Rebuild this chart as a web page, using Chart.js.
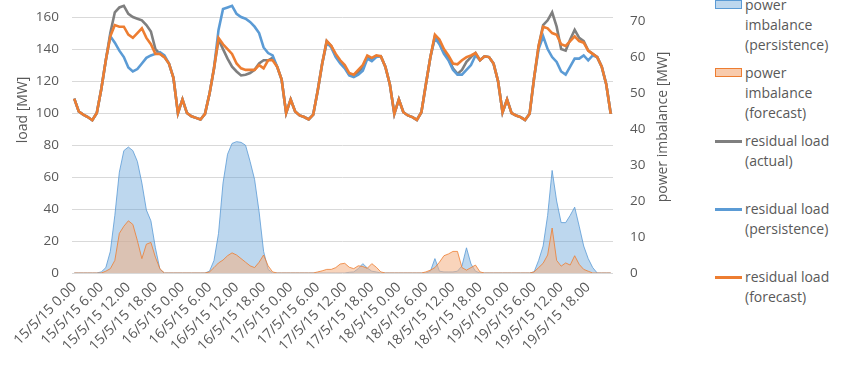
<!DOCTYPE html>
<html>
<head>
<meta charset="utf-8">
<script src="https://cdn.jsdelivr.net/npm/chart.js@4.4.1/dist/chart.umd.min.js"></script>
<style>
  html, body { margin: 0; padding: 0; background: #fff; }
  body { width: 850px; height: 370px; position: relative; overflow: hidden;
         font-family: "Open Sans", sans-serif; color: #595959; }
  #wrap { position: absolute; left: 0; top: -40px; width: 690px; height: 410px; }
  #legend { position: absolute; left: 715px; top: 0; }
  .item { position: absolute; left: 0; width: 135px; }
  .item .mk { position: absolute; left: 0; width: 27px; box-sizing: border-box; }
  .item .tx { position: absolute; left: 30px; top: 0; width: 102px; font-size: 14px; line-height: 20px; }
</style>
</head>
<body>
<div id="wrap"><canvas id="chart"></canvas></div>
<div id="legend"></div>
<script>
(function () {
  const days = ["15/5/15", "16/5/15", "17/5/15", "18/5/15", "19/5/15"];
  const tickLabels = [
    "15/5/15 0.00", "15/5/15 6.00", "15/5/15 12.00", "15/5/15 18.00",
    "16/5/15 0.00", "16/5/15 6.00", "16/5/15 12.00", "16/5/15 18.00",
    "17/5/15 0.00", "17/5/15 6.00", "17/5/15 12.00", "17/5/15 18.00",
    "18/5/15 0.00", "18/5/15 6.00", "18/5/15 12.00", "18/5/15 18.00",
    "19/5/15 0.00", "19/5/15 6.00", "19/5/15 12.00", "19/5/15 18.00"
  ];
  const loadTicks = [0, 20, 40, 60, 80, 100, 120, 140, 160];
  const imbalanceTicks = [0, 10, 20, 30, 40, 50, 60, 70];

  // residual load [MW], hourly, one row per day
  const loadActual = [
    109, 101, 99, 97.5, 95.5, 100, 115, 133, 150, 163, 166, 167, 162, 160, 159, 158, 155, 151, 140, 137, 135, 131, 122, 100,
    108.5, 100, 98, 97, 96, 99.5, 112, 128, 146, 140, 134, 129, 126, 123.5, 124, 125, 127, 131, 133, 133, 134.5, 129, 121, 100,
    108.5, 101, 98.5, 97.5, 96, 99, 114, 131, 145, 142, 136, 132, 129, 124, 123, 125.5, 128.5, 135, 133.5, 135.5, 135.5, 129, 118, 99.5,
    108.5, 100.5, 98.5, 97.5, 95.7, 100.5, 118, 135, 148, 145, 139, 134, 128, 124.5, 127, 132, 135, 137.5, 133, 135.5, 135, 131, 120, 100.5,
    108.5, 100, 98.5, 97.5, 95.7, 99.5, 122, 142, 155, 158, 163, 154, 140, 139, 146, 152, 147, 145, 139, 137, 135, 129, 118, 99.5
  ];
  const loadPersistence = [
    109, 101, 99, 97.5, 95.5, 100, 115, 133, 148, 144, 139, 135, 128.5, 126, 127.5, 131, 134.5, 136, 137, 138, 136, 131, 122, 100,
    108.5, 100, 98, 97, 96, 99.5, 112, 128, 152, 165, 166, 167, 162, 160, 159, 157, 154, 150, 141, 137.5, 136, 129, 121, 100,
    108.5, 101, 98.5, 97.5, 96, 99, 114, 131, 144, 141, 135, 131, 128, 123.5, 122.5, 124, 126.5, 134, 132.5, 135, 135.5, 129, 118, 99.5,
    108.5, 100.5, 98.5, 97.5, 95.7, 100.5, 118, 135, 147, 143, 137, 133, 127, 124, 124, 127, 130, 136, 133, 135.5, 135, 131, 120, 100.5,
    108.5, 100, 98.5, 97.5, 95.7, 99.5, 122, 140, 148, 140, 135, 132, 126, 124, 129, 134, 134, 136, 133, 136, 135, 129, 118, 99.5
  ];
  const loadForecast = [
    109, 101, 99, 97.5, 95.5, 100, 115, 133, 148, 155, 154, 154, 149, 147, 150, 153, 147, 143, 137, 137, 135, 131, 122, 100,
    108.5, 100, 98, 97, 96, 99.5, 112, 128, 147, 143, 140, 137, 131, 128, 127, 127, 127, 130, 128, 133, 133, 129, 121, 100,
    108.5, 101, 98.5, 97.5, 96, 99, 114, 131, 145, 142, 137, 133, 130, 125, 124, 127, 130, 136, 134.5, 136, 135.5, 129, 118, 99.5,
    108.5, 100.5, 98.5, 97.5, 95.7, 100.5, 118, 135, 149, 146, 140, 136, 131, 130.5, 133, 135, 136, 137.5, 133, 135.5, 135, 131, 120, 100.5,
    108.5, 100, 98.5, 97.5, 95.7, 99.5, 122, 142, 154, 153, 150, 149, 143, 142, 145, 148, 145, 144, 139, 137, 135, 129, 118, 99.5
  ];

  // power imbalance [MW], right axis
  const imbPersistence = [
    0, 0, 0, 0, 0, 0, 0.3, 1.5, 6, 16, 28, 34, 35, 34, 31, 25, 17.5, 14.5, 7, 1, 0, 0, 0, 0,
    0, 0, 0, 0, 0, 0, 0.5, 3.5, 11, 25, 33, 36, 36.5, 36.3, 35.5, 31, 26, 17, 6, 1, 0, 0, 0, 0,
    0, 0, 0, 0, 0, 0, 0, 0, 0, 0, 0, 0, 0, 0.2, 0.3, 1.2, 2.6, 1.4, 0.5, 0.3, 0, 0, 0, 0,
    0, 0, 0, 0, 0, 0, 0, 0.5, 4, 0.5, 0.3, 0.3, 0.3, 0.5, 2, 7, 2.5, 0.5, 0, 0, 0, 0, 0, 0,
    0, 0, 0, 0, 0, 0, 0.3, 3.5, 7.5, 16, 28.5, 20, 14, 14, 16, 18.3, 13, 7.5, 4, 1.5, 0, 0, 0, 0
  ];
  const imbForecast = [
    0, 0, 0, 0, 0, 0, 0, 0.5, 1.2, 3.5, 11, 13, 14.5, 13.5, 9, 4, 8, 8.5, 4.4, 1.2, 0, 0, 0, 0,
    0, 0, 0, 0, 0, 0, 0.3, 1.5, 2.8, 3.6, 4.8, 5.6, 5, 4, 3, 2, 1.5, 3, 5, 2, 0.3, 0, 0, 0,
    0, 0, 0, 0, 0, 0, 0.3, 0.6, 1, 1, 1.5, 2.5, 2.7, 1.6, 1.2, 2, 1.8, 1.3, 2.6, 1.6, 0.3, 0, 0, 0,
    0, 0, 0, 0, 0, 0, 0.3, 0.8, 1.5, 3, 4.8, 5.3, 6, 6, 1.5, 0.8, 1.5, 2.2, 0.3, 0, 0, 0, 0, 0,
    0, 0, 0, 0, 0, 0, 0.3, 1.5, 2.7, 5, 12.5, 3.5, 1.9, 2.8, 2.2, 4.8, 2.4, 1, 0.5, 0, 0, 0, 0, 0
  ];

  const categories = [];
  for (const d of days) {
    for (let h = 0; h < 24; h++) categories.push(d + " " + h + ".00");
  }

  const TEXT = "#595959";
  const FONT = { family: "'Open Sans', sans-serif", size: 13.5 };
  const XFONT = { family: "'Open Sans', sans-serif", size: 14 };
  const BLUE = "#5B9BD5", ORANGE = "#ED7D31", GRAY = "#7F7F7F";
  const BLUE_FILL = "rgba(91,155,213,0.4)", ORANGE_FILL = "rgba(244,177,131,0.55)";

  // axis titles drawn by hand so both read bottom-to-top like the original
  const axisTitles = {
    id: "axisTitles",
    afterDraw(chart) {
      const c = chart.ctx;
      c.save();
      c.fillStyle = TEXT;
      c.font = "14px 'Open Sans', sans-serif";
      c.textAlign = "center";
      c.textBaseline = "middle";
      const put = (x, y, s) => {
        c.save();
        c.translate(x, y);
        c.rotate(-Math.PI / 2);
        c.fillText(s, 0, 0);
        c.restore();
      };
      put(23, 150, "load [MW]");
      put(663, 167, "power imbalance [MW]");
      c.restore();
    },
  };

  const line = (label, data, color, order) => ({
    label, data, yAxisID: "y", borderColor: color, backgroundColor: color,
    borderWidth: 2.6, pointRadius: 0, tension: 0, fill: false, order,
  });
  const area = (label, data, color, fillColor, order) => ({
    label, data, yAxisID: "y1", borderColor: color, backgroundColor: fillColor,
    borderWidth: 0.8, pointRadius: 0, tension: 0, fill: "origin", order,
  });

  new Chart(document.getElementById("chart"), {
    type: "line",
    data: {
      labels: categories,
      datasets: [
        area("power imbalance (persistence)", imbPersistence, BLUE, BLUE_FILL, 4),
        area("power imbalance (forecast)", imbForecast, ORANGE, ORANGE_FILL, 3),
        line("residual load (actual)", loadActual, GRAY, 2),
        line("residual load (persistence)", loadPersistence, BLUE, 1),
        line("residual load (forecast)", loadForecast, ORANGE, 0),
      ],
    },
    options: {
      responsive: true,
      maintainAspectRatio: false,
      animation: false,
      layout: { padding: { top: 21, left: 0, right: 0, bottom: 0 } },
      plugins: { legend: { display: false }, tooltip: { enabled: false } },
      scales: {
        x: {
          offset: true,
          grid: { display: false, drawTicks: false },
          border: { display: false },
          ticks: {
            autoSkip: false, minRotation: 45, maxRotation: 45, padding: 6,
            color: TEXT, font: XFONT,
            callback: function (v) {
              const lab = this.getLabelForValue(v);
              return tickLabels.includes(lab) ? lab : null;
            },
          },
          afterFit: (s) => { s.height = 97; },
        },
        y: {
          position: "left", min: 0, max: 180,
          grid: { color: "#D9D9D9", drawTicks: false },
          border: { display: false },
          ticks: { padding: 13, color: TEXT, font: FONT },
          afterBuildTicks: (s) => { s.ticks = loadTicks.map((v) => ({ value: v })); },
          afterFit: (s) => { s.width = 72; },
        },
        y1: {
          position: "right", min: 0, max: 80,
          grid: { display: false, drawTicks: false },
          border: { display: false },
          ticks: { padding: 17, color: TEXT, font: FONT },
          afterBuildTicks: (s) => { s.ticks = imbalanceTicks.map((v) => ({ value: v })); },
          afterFit: (s) => { s.width = 77; },
        },
      },
    },
    plugins: [axisTitles],
  });

  // legend: Excel style, wrapped labels on the right
  const legendItems = [
    { text: "power imbalance (persistence)", kind: "box", color: BLUE, fill: "#BDD7EE" },
    { text: "power imbalance (forecast)", kind: "box", color: ORANGE, fill: "#F8CBAD" },
    { text: "residual load (actual)", kind: "line", color: GRAY },
    { text: "residual load (persistence)", kind: "line", color: BLUE },
    { text: "residual load (forecast)", kind: "line", color: ORANGE },
  ];
  const lg = document.getElementById("legend");
  legendItems.forEach((it, i) => {
    const d = document.createElement("div");
    d.className = "item";
    d.style.top = (-5 + i * 68) + "px";
    const mk = document.createElement("div");
    mk.className = "mk";
    if (it.kind === "box") {
      mk.style.top = "5px";
      mk.style.height = "9px";
      mk.style.background = it.fill;
      mk.style.border = "1px solid " + it.color;
    } else {
      mk.style.top = "9px";
      mk.style.height = "2.5px";
      mk.style.background = it.color;
    }
    const tx = document.createElement("div");
    tx.className = "tx";
    tx.textContent = it.text;
    d.appendChild(mk);
    d.appendChild(tx);
    lg.appendChild(d);
  });
})();
</script>
</body>
</html>
